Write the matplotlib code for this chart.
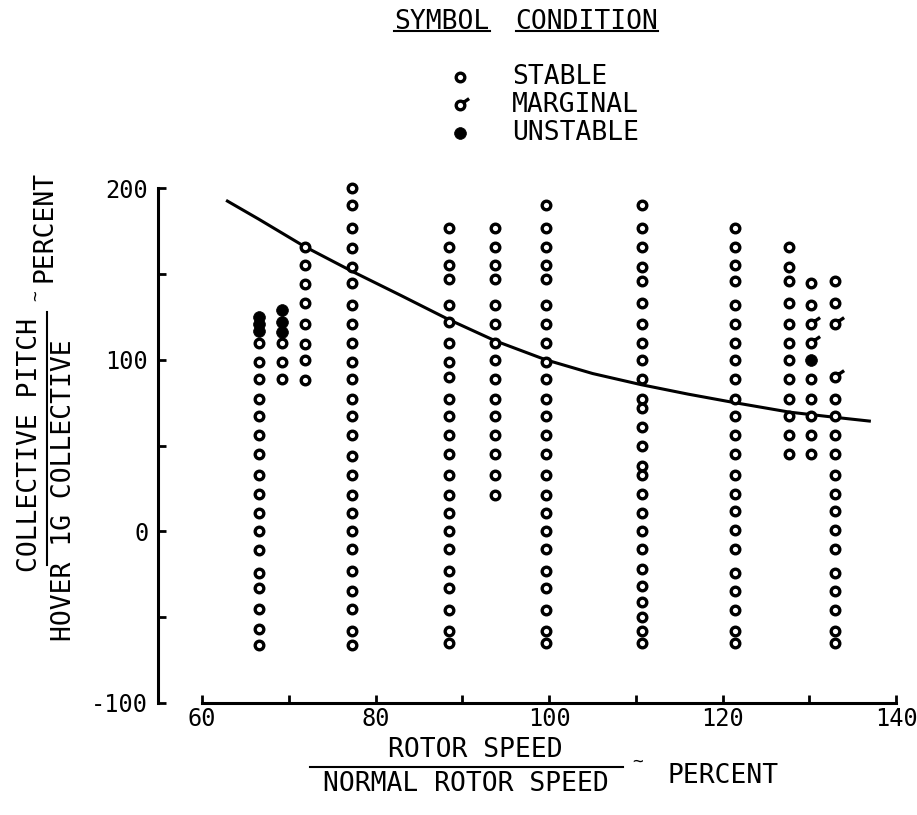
import matplotlib
matplotlib.use("Agg")
import matplotlib.pyplot as plt
from matplotlib.path import Path
from matplotlib.lines import Line2D

plt.rcParams["font.family"] = ["DejaVu Sans Mono", "DejaVu Sans"]

W, H = 917, 815

# rotor speed columns (percent) and the stable test points in each (percent collective)
col_x = [66.5, 69.2, 71.8, 77.3, 88.4, 93.8, 99.6, 110.7, 121.4, 127.6, 130.2, 132.9]
col_stable = [
    [110, 99, 89, 77, 67, 56, 45, 33, 22, 11, 0, -11, -24, -33, -45, -57, -66],
    [110, 99, 89],
    [166, 155, 144, 133, 121, 109, 100, 88],
    [200, 190, 177, 165, 154, 145, 132, 121, 110, 99, 89, 77, 67, 56, 44, 33,
     21, 11, 0, -10, -23, -35, -45, -58, -66],
    [177, 166, 155, 147, 132, 122, 110, 99, 90, 77, 67, 56, 45, 33, 21, 11, 0,
     -10, -23, -33, -46, -58, -65],
    [177, 166, 155, 147, 132, 121, 110, 100, 89, 77, 67, 56, 45, 33, 21],
    [190, 177, 166, 155, 147, 132, 121, 110, 99, 89, 77, 67, 56, 45, 33, 21, 11,
     0, -10, -23, -33, -46, -58, -65],
    [190, 177, 166, 154, 146, 133, 121, 110, 100, 89, 77, 72, 61, 50, 38, 33,
     22, 11, 0, -10, -22, -32, -41, -50, -58, -65],
    [177, 166, 155, 146, 132, 121, 110, 100, 89, 77, 67, 56, 45, 33, 22, 12, 1,
     -10, -24, -35, -46, -58, -65],
    [166, 154, 146, 133, 121, 110, 100, 89, 77, 67, 56, 45],
    [145, 132, 89, 77, 67, 56, 45],
    [146, 133, 77, 67, 56, 45, 33, 22, 12, 1, -10, -24, -35, -46, -58, -65],
]

marginal_x = [130.2, 130.2, 132.9, 132.9]
marginal_y = [121, 110, 121, 90]

unstable_x = [66.5, 66.5, 66.5, 69.2, 69.2, 69.2, 130.2]
unstable_y = [125, 121, 117, 129, 122, 116, 100]

# faired stability boundary
curve_x = [62.9, 66.5, 71.8, 77.3, 82.9, 88.4, 93.8, 99.6, 105.0, 110.6, 116.0,
           121.4, 127.7, 132.9, 136.9]
curve_y = [192.5, 182.0, 166.0, 151.5, 137.5, 123.5, 111.0, 100.0, 92.0, 85.5, 80.0,
           75.0, 69.5, 66.5, 64.3]

x_ticks = [60, 80, 100, 120, 140]
x_minor = [70, 90, 110, 130]
y_ticks = [-100, 0, 100, 200]
y_minor = [-50, 50, 150]
y_ticklabels = ["-100", "0", "100", "200"]


def fx(px):
    return px / W


def fy(py):
    return 1 - py / H


# marginal symbol: ring with a short flag
ring = Path.unit_circle()
flag = Path([(0.72, 0.72), (2.0, 1.6)], [Path.MOVETO, Path.LINETO])
marg_marker = Path.make_compound_path(ring, flag)

ms = 6.2
mew = 2.4
open_kw = dict(ls="none", marker="o", ms=ms, mew=mew, mfc="white", mec="k", clip_on=False)
marg_kw = dict(ls="none", marker=marg_marker, ms=2 * ms, mew=mew, mfc="none", mec="k", clip_on=False)
fill_kw = dict(ls="none", marker="o", ms=8.5, mew=0.5, mfc="k", mec="k", clip_on=False)

fig = plt.figure(figsize=(W / 100, H / 100), dpi=100)
x0, x1 = 54.9, 141.0
y0, y1 = -100, 202
ax = fig.add_axes([fx(158), fy(703), (x1 - x0) * 8.675 / W, (y1 - y0) * 1.716 / H])
ax.set_xlim(x0, x1)
ax.set_ylim(y0, y1)

ax.plot(curve_x, curve_y, color="k", lw=2.2, zorder=2)

for x, ys in zip(col_x, col_stable):
    ax.plot([x] * len(ys), ys, zorder=3, **open_kw)
ax.plot(marginal_x, marginal_y, zorder=3, **marg_kw)
ax.plot(unstable_x, unstable_y, zorder=4, **fill_kw)

# detached axes
for s in ["top", "right"]:
    ax.spines[s].set_visible(False)
ax.spines["left"].set_bounds(-100, 200)
ax.spines["bottom"].set_bounds(60, 140)
for s in ["left", "bottom"]:
    ax.spines[s].set_linewidth(2.2)

ax.set_xticks(x_ticks)
ax.set_xticks(x_minor, minor=True)
ax.set_xticklabels([str(v) for v in x_ticks])
ax.set_yticks(y_ticks)
ax.set_yticks(y_minor, minor=True)
ax.set_yticklabels(y_ticklabels)
ax.tick_params(which="both", direction="in", length=6, width=2, labelsize=17)
ax.tick_params(axis="x", pad=3)
ax.tick_params(axis="y", pad=7)

lab = 19

# legend block
t1 = fig.text(fx(442), fy(22), "SYMBOL", ha="center", va="center", fontsize=lab)
t2 = fig.text(fx(587), fy(22), "CONDITION", ha="center", va="center", fontsize=lab)
leg_rows = [("STABLE", 77, open_kw), ("MARGINAL", 105, marg_kw), ("UNSTABLE", 133, fill_kw)]
for name, py, kw in leg_rows:
    ax.plot([fx(460)], [fy(py)], transform=fig.transFigure, **kw)
    fig.text(fx(512), fy(py), name, ha="left", va="center", fontsize=lab)

# y label as a fraction
fig.text(fx(30), fy(445), "COLLECTIVE PITCH", rotation=90, ha="center", va="center", fontsize=lab)
fig.text(fx(64), fy(490), "HOVER 1G COLLECTIVE", rotation=90, ha="center", va="center", fontsize=lab)
fig.add_artist(Line2D([fx(47), fx(47)], [fy(312), fy(565)], color="k", lw=1.5))
fig.text(fx(36), fy(296), "~", rotation=90, ha="center", va="center", fontsize=13)
fig.text(fx(45), fy(226), "PERCENT", rotation=90, ha="center", va="center", fontsize=lab)

# x label as a fraction
fig.text(fx(475), fy(750), "ROTOR SPEED", ha="center", va="center", fontsize=lab)
fig.add_artist(Line2D([fx(310), fx(623)], [fy(767), fy(767)], color="k", lw=1.5))
fig.text(fx(466), fy(784), "NORMAL ROTOR SPEED", ha="center", va="center", fontsize=lab)
fig.text(fx(638), fy(762), "~", ha="center", va="center", fontsize=13)
fig.text(fx(723), fy(776), "PERCENT", ha="center", va="center", fontsize=lab)

# underline the legend headings
fig.canvas.draw()
for t in (t1, t2):
    bb = t.get_window_extent()
    fig.add_artist(Line2D([bb.x0 / W, bb.x1 / W], [fy(31), fy(31)], color="k", lw=1.5))

fig.savefig("out.png", dpi=100)
